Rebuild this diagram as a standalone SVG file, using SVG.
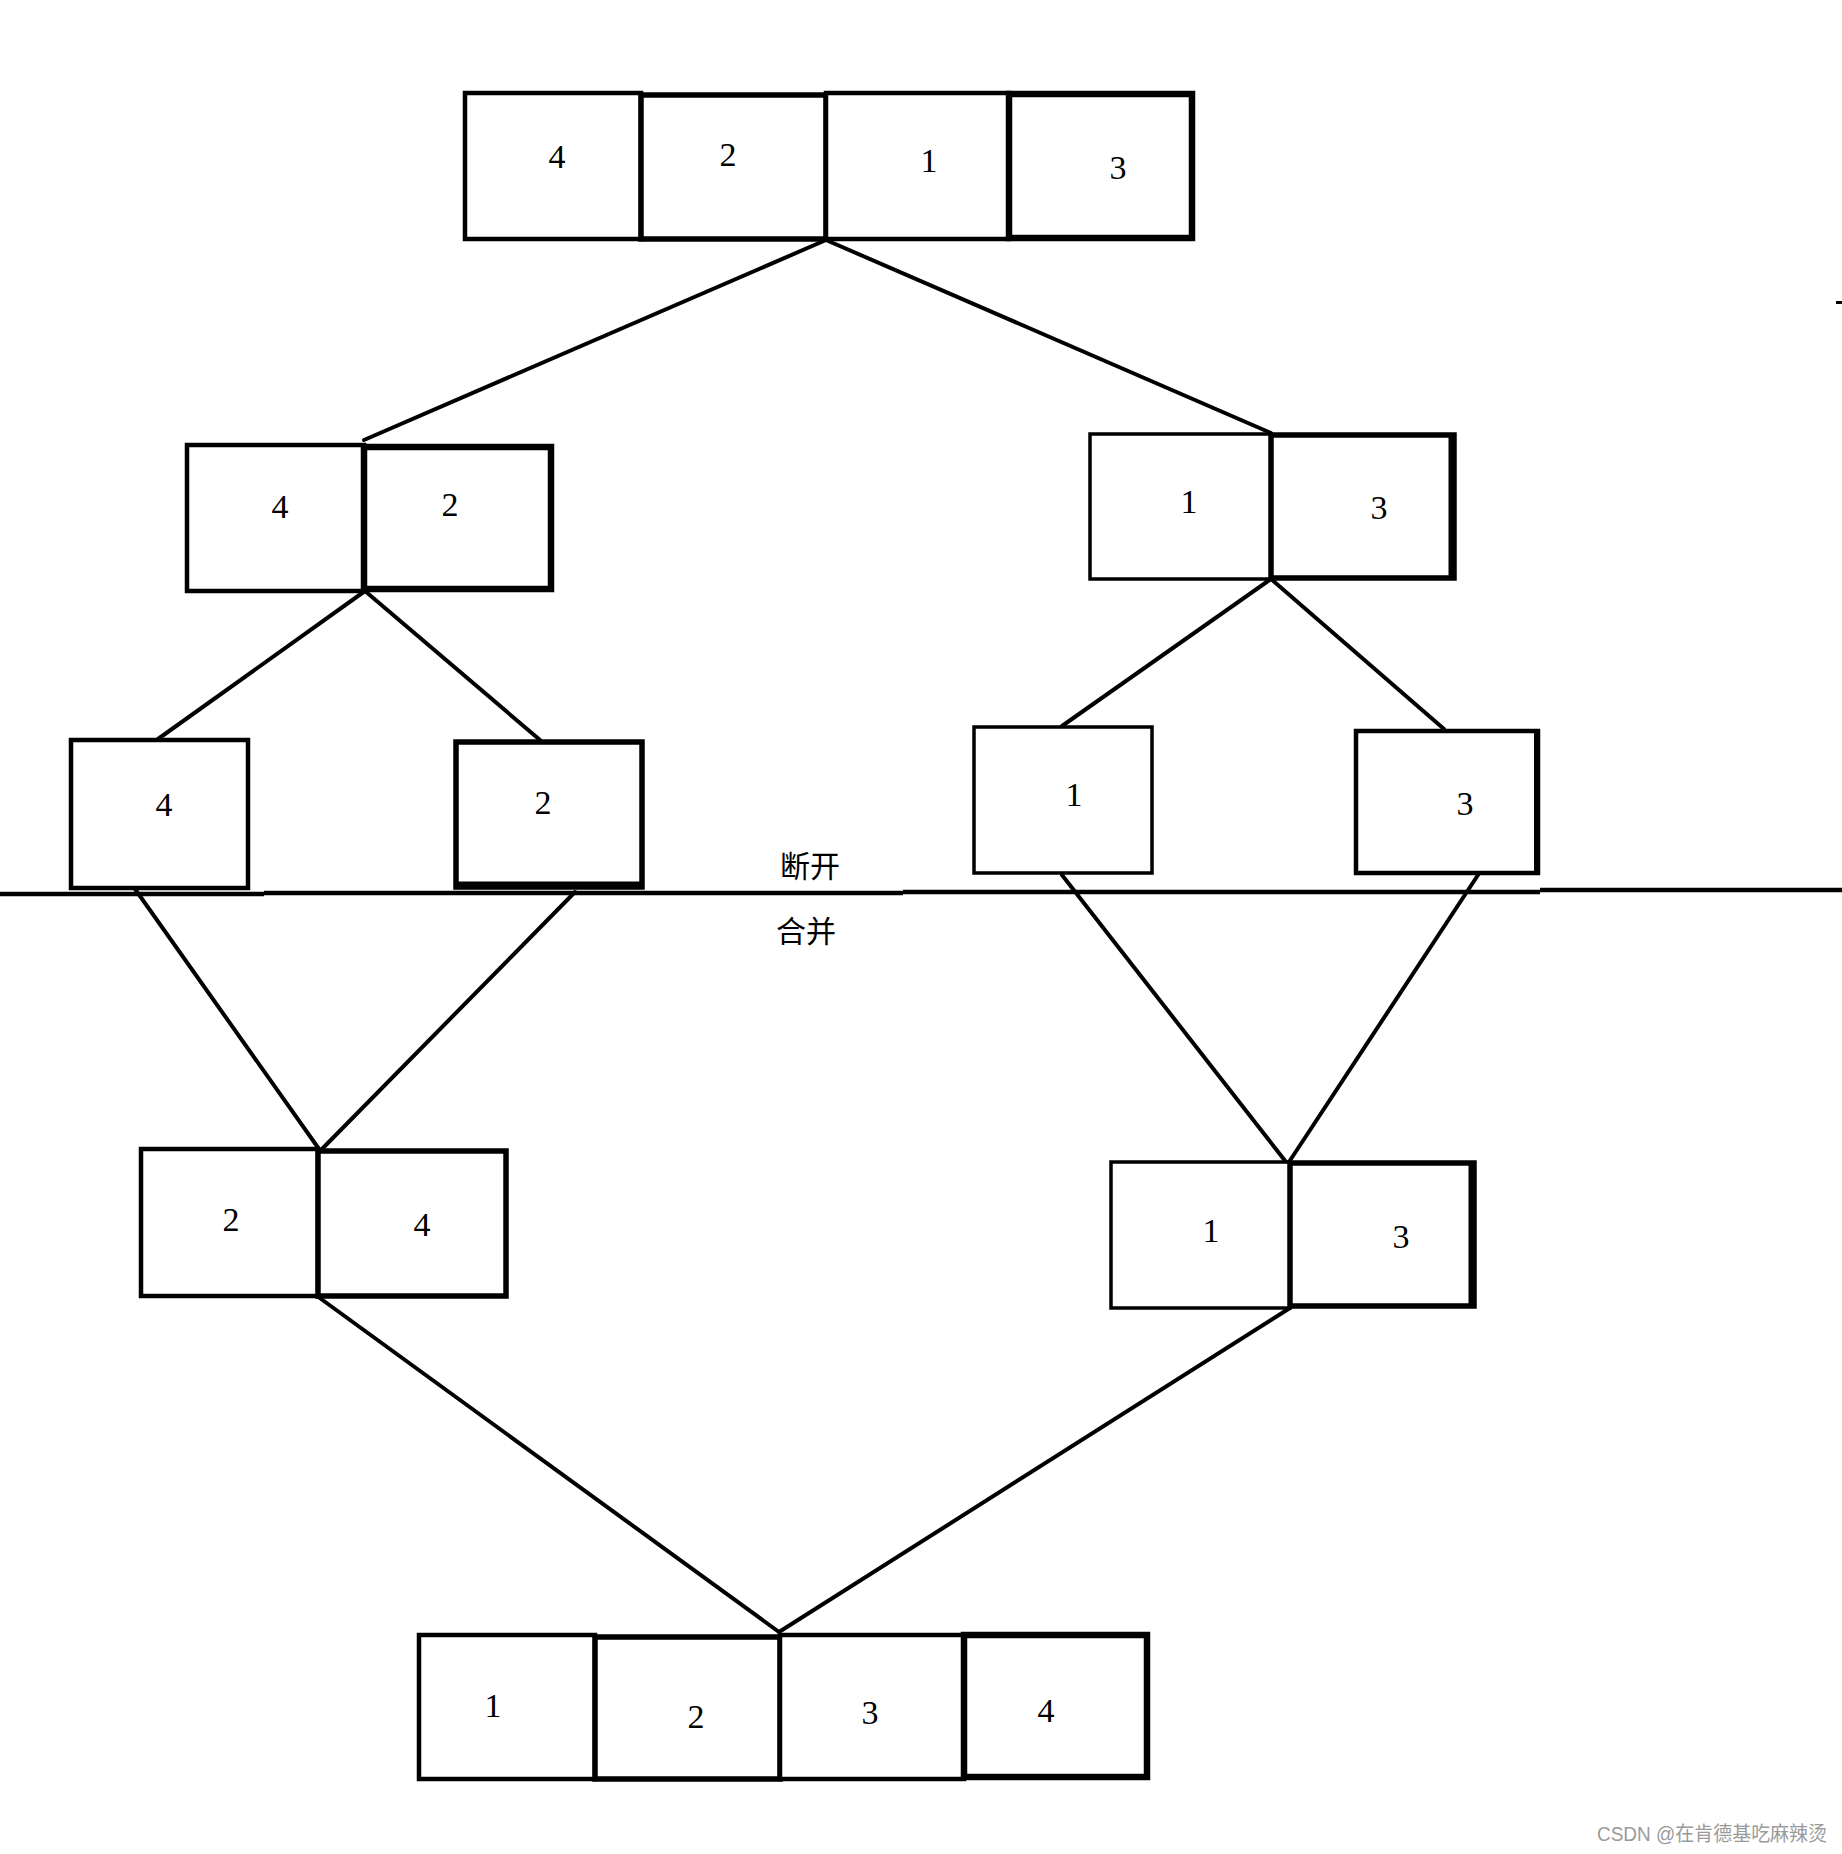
<svg xmlns="http://www.w3.org/2000/svg" width="1842" height="1854" viewBox="0 0 1842 1854">
<style>
.c{fill:#fff;stroke:#000;stroke-width:4.5}
.t5{stroke-width:5.5}
.t3{stroke-width:3.5}
.t6{stroke-width:6.5}
.n{font-family:"Liberation Serif",serif;font-size:34px;fill:#000;text-anchor:middle}
.cj{font-family:"Noto Sans CJK SC",sans-serif;font-size:30px;fill:#000}
.k{stroke:#000;stroke-width:4;fill:none;stroke-linecap:round}
.h{stroke:#000;stroke-width:4.5;fill:none}
</style>
<rect width="1842" height="1854" fill="#fff"/>
<g id="connectors">
<line class="k" x1="826" y1="240" x2="364" y2="440"/>
<line class="k" x1="826" y1="240" x2="1271" y2="433"/>
<line class="k" x1="365" y1="591" x2="158" y2="739"/>
<line class="k" x1="365" y1="591" x2="540" y2="740"/>
<line class="k" x1="1271" y1="579" x2="1062" y2="726"/>
<line class="k" x1="1271" y1="579" x2="1444" y2="729"/>
<line class="k" x1="135" y1="889" x2="319" y2="1149"/>
<line class="k" x1="575" y1="892" x2="322" y2="1149"/>
<line class="k" x1="1062" y1="875" x2="1286" y2="1162"/>
<line class="k" x1="1478" y1="875" x2="1289" y2="1162"/>
<line class="k" x1="317" y1="1296" x2="779" y2="1632"/>
<line class="k" x1="1290" y1="1308" x2="779" y2="1632"/>
</g>
<g id="divider">
<line class="h" x1="0" y1="894" x2="264" y2="894"/>
<line class="h" x1="264" y1="893" x2="903" y2="893"/>
<line class="h" x1="903" y1="892" x2="1540" y2="892"/>
<line class="h" x1="1540" y1="890" x2="1842" y2="890"/>
<text class="cj" x="780" y="877">断开</text>
<text class="cj" x="776" y="942">合并</text>
</g>
<g id="top">
<rect class="c" x="465" y="93" width="176" height="146"/>
<rect class="c t5" x="641" y="95" width="185" height="144"/>
<rect class="c" x="826" y="93" width="183" height="146"/>
<rect class="c t6" x="1009" y="94" width="183" height="144"/>
<text class="n" x="557" y="168">4</text>
<text class="n" x="728" y="166">2</text>
<text class="n" x="929" y="172">1</text>
<text class="n" x="1118" y="179">3</text>
</g>
<g id="left-42">
<rect class="c" x="187" y="445" width="177" height="146"/>
<rect class="c t6" x="364" y="447" width="187" height="142"/>
<text class="n" x="280" y="518">4</text>
<text class="n" x="450" y="516">2</text>
</g>
<g id="right-13">
<rect class="c t3" x="1090" y="434" width="181" height="145"/>
<rect class="c t5" x="1271" y="435" width="183" height="143"/>
<line stroke="#000" stroke-width="7" x1="1452" y1="433" x2="1452" y2="580"/>
<text class="n" x="1189" y="513">1</text>
<text class="n" x="1379" y="519">3</text>
</g>
<g id="single-4">
<rect class="c" x="71" y="740" width="177" height="148"/>
<text class="n" x="164" y="816">4</text>
</g>
<g id="single-2">
<rect class="c t5" x="456" y="742" width="186" height="145"/>
<line stroke="#000" stroke-width="7" x1="456" y1="885" x2="644" y2="885"/>
<text class="n" x="543" y="814">2</text>
</g>
<g id="single-1">
<rect class="c t3" x="974" y="727" width="178" height="146"/>
<text class="n" x="1074" y="806">1</text>
</g>
<g id="single-3">
<rect class="c" x="1356" y="731" width="182" height="142"/>
<line stroke="#000" stroke-width="6" x1="1537" y1="729" x2="1537" y2="875"/>
<text class="n" x="1465" y="815">3</text>
</g>
<g id="merge-24">
<rect class="c" x="141" y="1149" width="177" height="147"/>
<rect class="c t5" x="318" y="1151" width="188" height="145"/>
<text class="n" x="231" y="1231">2</text>
<text class="n" x="422" y="1236">4</text>
</g>
<g id="merge-13">
<rect class="c t3" x="1111" y="1162" width="179" height="146"/>
<rect class="c t5" x="1290" y="1163" width="184" height="143"/>
<line stroke="#000" stroke-width="7" x1="1472" y1="1161" x2="1472" y2="1308"/>
<text class="n" x="1211" y="1242">1</text>
<text class="n" x="1401" y="1248">3</text>
</g>
<g id="bottom">
<rect class="c" x="419" y="1635" width="176" height="144"/>
<rect class="c t5" x="595" y="1637" width="185" height="142"/>
<rect class="c" x="780" y="1635" width="184" height="144"/>
<rect class="c t6" x="964" y="1635" width="183" height="142"/>
<text class="n" x="493" y="1717">1</text>
<text class="n" x="696" y="1728">2</text>
<text class="n" x="870" y="1724">3</text>
<text class="n" x="1046" y="1722">4</text>
</g>
<rect x="1836" y="301" width="6" height="3" fill="#000"/>
<text x="1597" y="1841" font-family="'Liberation Sans','Noto Sans CJK SC',sans-serif" font-size="20" fill="#9a9a9a" textLength="230" lengthAdjust="spacingAndGlyphs">CSDN @在肯德基吃麻辣烫</text>
</svg>
